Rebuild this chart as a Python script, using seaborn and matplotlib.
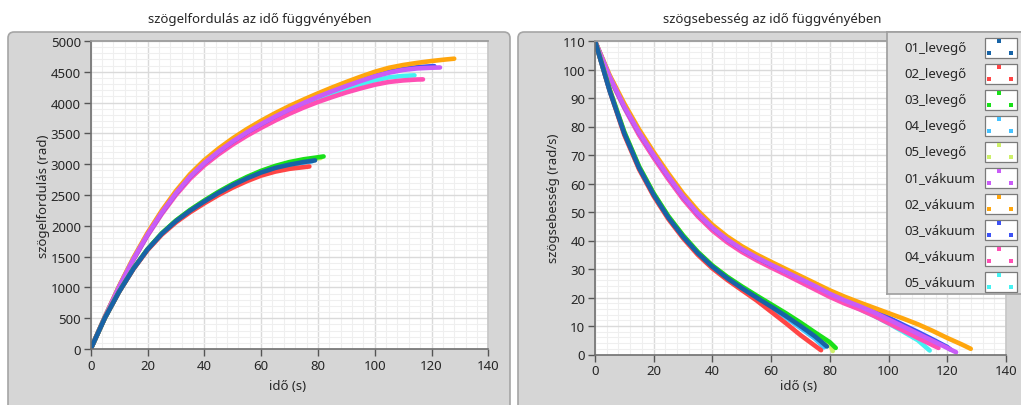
import pandas as pd
import matplotlib
matplotlib.use("Agg")
import matplotlib.pyplot as plt
import seaborn as sns
from matplotlib.patches import Rectangle, FancyBboxPatch
from matplotlib.ticker import MultipleLocator, AutoMinorLocator

# series names and colours (LabVIEW legend)
series = ["01_levegő", "02_levegő", "03_levegő", "04_levegő", "05_levegő",
          "01_vákuum", "02_vákuum", "03_vákuum", "04_vákuum", "05_vákuum"]
colors = ["#1763a6", "#ff4545", "#19e019", "#45c2ff", "#cdf06a",
          "#c95cf7", "#ffa60d", "#3d52f5", "#ff4fb4", "#45f2f2"]

# time stamps (s), read every 5 s plus the last sample of each run
t_lev01 = list(range(0, 76, 5)) + [79]
t_lev02 = list(range(0, 76, 5)) + [77]
t_lev03 = list(range(0, 81, 5)) + [82]
t_lev04 = list(range(0, 76, 5)) + [78]
t_lev05 = list(range(0, 81, 5)) + [81]
t_vak01 = list(range(0, 121, 5)) + [123]
t_vak02 = list(range(0, 126, 5)) + [128]
t_vak03 = list(range(0, 121, 5)) + [121]
t_vak04 = list(range(0, 116, 5)) + [117]
t_vak05 = list(range(0, 111, 5)) + [114]

# angle of rotation (rad)
ang_lev01 = [0, 505, 930, 1300, 1615, 1870, 2075, 2245, 2395, 2535, 2660, 2770, 2865, 2940, 2993, 3035, 3062]
ang_lev02 = [0, 505, 928, 1295, 1605, 1855, 2055, 2220, 2365, 2500, 2620, 2725, 2815, 2880, 2925, 2952, 2963]
ang_lev03 = [0, 505, 932, 1303, 1620, 1877, 2085, 2258, 2410, 2552, 2680, 2793, 2892, 2972, 3035, 3080, 3112, 3126]
ang_lev04 = [0, 505, 930, 1300, 1615, 1870, 2075, 2245, 2393, 2532, 2656, 2765, 2858, 2932, 2985, 3025, 3048]
ang_lev05 = [0, 505, 931, 1302, 1618, 1875, 2082, 2254, 2405, 2546, 2673, 2785, 2883, 2962, 3024, 3068, 3095, 3100]
ang_vak01 = [0, 520, 1010, 1460, 1860, 2215, 2530, 2800, 3020, 3205, 3370, 3518, 3652,
             3775, 3890, 3995, 4095, 4185, 4270, 4350, 4425, 4485, 4530, 4555, 4566, 4570]
ang_vak02 = [0, 525, 1022, 1478, 1885, 2245, 2565, 2840, 3065, 3253, 3420, 3570, 3705,
             3830, 3945, 4050, 4150, 4245, 4335, 4420, 4500, 4565, 4610, 4645, 4675, 4700, 4713]
ang_vak03 = [0, 520, 1010, 1460, 1860, 2215, 2530, 2800, 3020, 3205, 3370, 3518, 3652,
             3778, 3895, 4002, 4103, 4195, 4282, 4365, 4440, 4500, 4545, 4575, 4590, 4592]
ang_vak04 = [0, 515, 1000, 1445, 1840, 2190, 2500, 2765, 2980, 3160, 3320, 3462, 3590,
             3710, 3820, 3920, 4010, 4090, 4165, 4230, 4290, 4335, 4360, 4375, 4377]
ang_vak05 = [0, 518, 1005, 1452, 1850, 2202, 2515, 2783, 3000, 3182, 3345, 3490, 3622,
             3742, 3855, 3958, 4052, 4140, 4222, 4298, 4360, 4410, 4432, 4442]

# angular velocity (rad/s)
spd_lev01 = [110, 92.5, 77.5, 65.5, 56, 48, 41.3, 35.6, 30.8, 26.8, 23.3, 20, 16.8, 13.5, 10, 6.3, 2.8]
spd_lev02 = [110, 92.5, 77, 65, 55.5, 47.5, 40.8, 35, 30.2, 26.2, 22.6, 19, 15, 11, 6.8, 3, 1.5]
spd_lev03 = [110, 93, 78, 66, 56.5, 48.5, 41.8, 36, 31.2, 27.3, 23.9, 20.7, 17.6, 14.5, 11.2, 7.7, 4.3, 2.3]
spd_lev04 = [110, 92.5, 77.5, 65.5, 56, 48, 41.3, 35.6, 30.8, 26.8, 23.3, 19.9, 16.5, 13, 9.3, 5.5, 2.5]
spd_lev05 = [110, 93, 78, 66, 56.5, 48.5, 41.8, 36, 31.2, 27.2, 23.7, 20.4, 17.2, 14, 10.6, 7, 3.4, 1.2]
spd_vak01 = [110, 97.5, 87, 78, 70, 62.5, 55.5, 49.5, 44.5, 40.4, 37, 34.1, 31.5,
             29, 26.5, 24, 21.3, 19, 17, 14.8, 12.3, 9.8, 7.3, 4.8, 2.3, 0.8]
spd_vak02 = [110, 98, 88, 79, 71, 63.5, 56.5, 50.5, 45.5, 41.4, 38, 35.1, 32.5,
             30, 27.5, 25, 22.5, 20.3, 18.3, 16.4, 14.5, 12.6, 10.6, 8.3, 5.8, 3.5, 2]
spd_vak03 = [110, 97.5, 87, 78, 70, 62.5, 55.5, 49.5, 44.5, 40.4, 37, 34.1, 31.5,
             29.1, 26.7, 24.2, 21.6, 19.4, 17.4, 15.3, 12.9, 10.4, 7.9, 5.3, 2.6, 1.8]
spd_vak04 = [110, 97, 86.5, 77, 69, 61.5, 54.5, 48.5, 43.5, 39.4, 36, 33.1, 30.5,
             28, 25.4, 22.8, 20.2, 17.9, 15.9, 13.6, 11, 8.4, 5.8, 3.3, 2.3]
spd_vak05 = [110, 97.2, 86.7, 77.3, 69.3, 61.8, 54.8, 48.8, 43.8, 39.7, 36.3, 33.4, 30.8,
             28.3, 25.7, 23.1, 20.5, 18.2, 16, 13.6, 10.9, 8, 5, 1.4]

times = [t_lev01, t_lev02, t_lev03, t_lev04, t_lev05,
         t_vak01, t_vak02, t_vak03, t_vak04, t_vak05]
angles = [ang_lev01, ang_lev02, ang_lev03, ang_lev04, ang_lev05,
          ang_vak01, ang_vak02, ang_vak03, ang_vak04, ang_vak05]
speeds = [spd_lev01, spd_lev02, spd_lev03, spd_lev04, spd_lev05,
          spd_vak01, spd_vak02, spd_vak03, spd_vak04, spd_vak05]


def long_table(values):
    frames = []
    for name, t, v in zip(series, times, values):
        frames.append(pd.DataFrame({"t": t, "y": v, "series": name}))
    return pd.concat(frames, ignore_index=True)


df_ang = long_table(angles)
df_spd = long_table(speeds)

sns.set_theme(style="white")
plt.rcParams["font.family"] = ["Noto Sans", "DejaVu Sans"]
plt.rcParams["text.color"] = "#262626"

W, H = 1021, 406
fig = plt.figure(figsize=(W / 100, H / 100), dpi=100, facecolor="white")


def fx(px):
    return px / W


def fy(py):
    return 1 - py / H


# grey LabVIEW panels behind the two graphs
for x0, x1 in [(8, 510), (518, 1030)]:
    panel = FancyBboxPatch((fx(x0), fy(420)), fx(x1 - x0), (420 - 33) / H,
                           boxstyle="round,pad=0,rounding_size=0.006",
                           mutation_aspect=W / H, transform=fig.transFigure,
                           facecolor="#d6d6d6", edgecolor="#a5a5a5", lw=1.2, zorder=-5)
    fig.patches.append(panel)

ax1 = fig.add_axes([fx(90.7), fy(350), fx(488.3 - 90.7), (350 - 42) / H])
ax2 = fig.add_axes([fx(595), fy(355.5), fx(1006 - 595), (355.5 - 42) / H])

order = series[::-1]  # first series ends up on top
palette = dict(zip(series, colors))

sns.lineplot(data=df_ang, x="t", y="y", hue="series", hue_order=order, palette=palette,
             estimator=None, sort=False, lw=3.3, legend=False, ax=ax1)
sns.lineplot(data=df_spd, x="t", y="y", hue="series", hue_order=order, palette=palette,
             estimator=None, sort=False, lw=3.3, legend=False, ax=ax2)

for ax, ymax, ystep in [(ax1, 5000, 500), (ax2, 110, 10)]:
    ax.set_xlim(0, 140)
    ax.set_ylim(0, ymax)
    ax.xaxis.set_major_locator(MultipleLocator(20))
    ax.yaxis.set_major_locator(MultipleLocator(ystep))
    ax.xaxis.set_minor_locator(AutoMinorLocator(5))
    ax.yaxis.set_minor_locator(AutoMinorLocator(5))
    ax.set_facecolor("white")
    ax.grid(which="major", color="#dadada", lw=1.0)
    ax.grid(which="minor", color="#efefef", lw=0.8)
    ax.set_axisbelow(True)
    ax.tick_params(which="major", direction="out", length=5, width=1.0, color="#555555",
                   labelsize=9.5, labelcolor="#262626", pad=2, left=True, bottom=True)
    ax.tick_params(which="minor", length=0)
    ax.set_xlabel("")
    ax.set_ylabel("")
    for side in ["left", "bottom"]:
        ax.spines[side].set_color("#707070")
        ax.spines[side].set_linewidth(1.2)
    ax.spines["top"].set_color("#9a9a9a")
    ax.spines["right"].set_color("#c8c8c8")

# titles and axis labels
fig.text(fx(260), fy(20), "szögelfordulás az idő függvényében", ha="center", va="center", fontsize=9.5)
fig.text(fx(772), fy(20), "szögsebesség az idő függvényében", ha="center", va="center", fontsize=9.5)
fig.text(fx(288), fy(387), "idő (s)", ha="center", va="center", fontsize=9.5)
fig.text(fx(799), fy(387), "idő (s)", ha="center", va="center", fontsize=9.5)
fig.text(fx(44), fy(196), "szögelfordulás (rad)", ha="center", va="center", rotation=90, fontsize=9.5)
fig.text(fx(553), fy(198), "szögsebesség (rad/s)", ha="center", va="center", rotation=90, fontsize=9.5)

# LabVIEW style plot legend (label + swatch with three dots)
lg = fig.add_axes([fx(887), fy(295), fx(1030 - 887), (295 - 33) / H])
lg.set_xlim(887, 1030)
lg.set_ylim(295, 33)
lg.set_facecolor("#dedede")
lg.set_xticks([])
lg.set_yticks([])
for s in lg.spines.values():
    s.set_color("#a0a0a0")
for i, (name, c) in enumerate(zip(series, colors)):
    yc = 48.5 + 26 * i
    lg.text(904, yc, name, ha="left", va="center", fontsize=9.5, color="#262626")
    lg.add_patch(Rectangle((985, yc - 10), 32, 20, facecolor="white", edgecolor="#7a7a7a", lw=0.9))
    lg.scatter([999, 988.5, 1010.5], [yc - 6.8, yc + 5, yc + 5], marker="s", s=6, color=c, lw=0)

fig.savefig("out.png", dpi=100, facecolor="white")
